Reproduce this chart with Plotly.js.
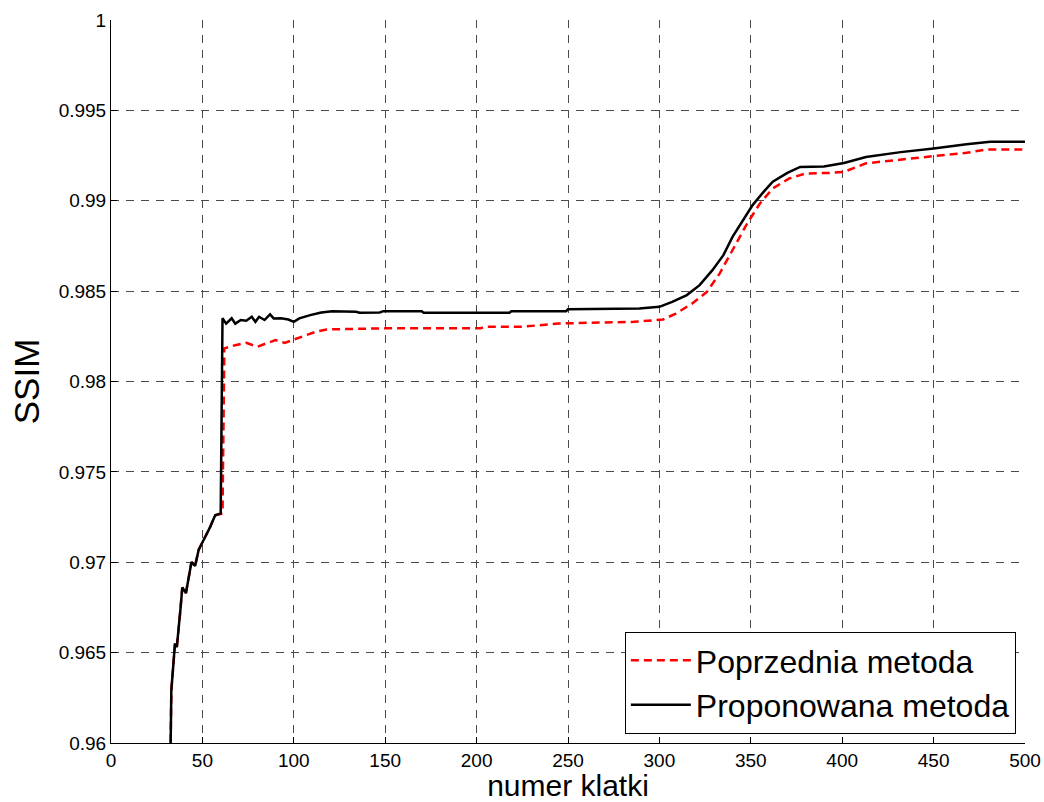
<!DOCTYPE html>
<html>
<head>
<meta charset="utf-8">
<script src="https://cdn.plot.ly/plotly-3.0.1.min.js"></script>
<style>html,body{margin:0;padding:0;background:#fff;}#chart{width:1044px;height:802px;}</style>
</head>
<body>
<div id="chart"></div>
<script>
// Poprzednia metoda (red dashed)
const prevX = [32, 33, 35, 36, 38, 39, 41, 44, 46, 48, 51, 54, 57, 60, 61, 62, 68, 74, 80, 85, 90, 95, 100, 105, 112, 118, 150, 202, 205, 225, 245, 263, 286, 302, 309, 318, 326, 333, 340, 348, 355, 362, 371, 380, 393, 401, 413, 432, 450, 468, 479, 500];
const prevY = [0.955, 0.9629, 0.9655, 0.9653, 0.9674, 0.9686, 0.9683, 0.9700, 0.9698, 0.9707, 0.9713, 0.9719, 0.9726, 0.9727, 0.9727, 0.98183, 0.98201, 0.98214, 0.98192, 0.98211, 0.98229, 0.98214, 0.98233, 0.98251, 0.98275, 0.98288, 0.98294, 0.98294, 0.98303, 0.98303, 0.98321, 0.98325, 0.9833, 0.98343, 0.98376, 0.98432, 0.98496, 0.98598, 0.98727, 0.98874, 0.98985, 0.99068, 0.99123, 0.99151, 0.99154, 0.9916, 0.99207, 0.99229, 0.99247, 0.99265, 0.99284, 0.99284];

// Proponowana metoda (black solid)
const propX = [32, 33, 35, 36, 38, 39, 41, 44, 46, 48, 51, 54, 57, 60, 61, 63, 66, 68, 71, 74, 77, 79, 81, 84, 87, 89, 93, 97, 100, 103, 109, 115, 121, 134, 136, 147, 149, 170, 171, 218, 219, 249, 250, 289, 300, 307, 315, 322, 329, 335, 340, 346, 351, 357, 362, 370, 377, 390, 401, 413, 432, 450, 468, 481, 500];
const propY = [0.955, 0.9629, 0.9655, 0.9653, 0.9674, 0.9686, 0.9683, 0.9700, 0.9698, 0.9707, 0.9713, 0.9719, 0.9726, 0.9727, 0.9835, 0.9832, 0.9835, 0.9832, 0.9834, 0.98336, 0.98358, 0.9833, 0.98358, 0.9834, 0.98371, 0.98349, 0.9835, 0.98343, 0.9833, 0.98349, 0.98367, 0.98382, 0.98388, 0.98386, 0.9838, 0.98382, 0.98389, 0.98389, 0.98381, 0.98381, 0.98389, 0.98389, 0.984, 0.98404, 0.98413, 0.98441, 0.98478, 0.98533, 0.98616, 0.98699, 0.988, 0.98893, 0.98976, 0.99049, 0.99105, 0.99154, 0.99187, 0.9919, 0.99209, 0.99242, 0.99269, 0.99289, 0.99313, 0.99326, 0.99326];

const seriesNames = ["Poprzednia metoda", "Proponowana metoda"];
const xTicks = [0, 50, 100, 150, 200, 250, 300, 350, 400, 450, 500];
const yTicks = [0.96, 0.965, 0.97, 0.975, 0.98, 0.985, 0.99, 0.995, 1];
const yTickText = ["0.96", "0.965", "0.97", "0.975", "0.98", "0.985", "0.99", "0.995", "1"];

const FONT = "Liberation Sans, Arial, sans-serif";

const traces = [
  {x: prevX, y: prevY, name: seriesNames[0], type: "scatter", mode: "lines",
   line: {color: "#ff0000", width: 2.5, dash: "8px,5px"}},
  {x: propX, y: propY, name: seriesNames[1], type: "scatter", mode: "lines",
   line: {color: "#000000", width: 2.5}}
];

const gridStyle = {showgrid: true, gridcolor: "#4a4a4a", gridwidth: 1, griddash: "8px,7px"};

const layout = {
  width: 1044, height: 802,
  margin: {l: 111, r: 19, t: 20, b: 59},
  paper_bgcolor: "#ffffff", plot_bgcolor: "#ffffff",
  font: {family: FONT, color: "#000"},
  showlegend: true,
  legend: {
    x: 0.99, y: 0.0125, xanchor: "right", yanchor: "bottom",
    bgcolor: "#ffffff", bordercolor: "#000000", borderwidth: 1,
    font: {family: FONT, size: 32, color: "#000"},
    itemwidth: 60, tracegroupgap: 0
  },
  xaxis: Object.assign({
    range: [0, 500], tickvals: xTicks, ticktext: xTicks.map(String),
    ticks: "inside", ticklen: 6, tickcolor: "#000",
    showline: true, linecolor: "#000", linewidth: 1, zeroline: false,
    tickfont: {family: FONT, size: 19, color: "#000"},
    title: {text: "numer klatki", font: {family: FONT, size: 30, color: "#000"}, standoff: 7}
  }, gridStyle),
  yaxis: Object.assign({
    range: [0.96, 1], tickvals: yTicks, ticktext: yTickText,
    ticks: "inside", ticklen: 6, tickcolor: "#000",
    showline: true, linecolor: "#000", linewidth: 1, zeroline: false,
    tickfont: {family: FONT, size: 19, color: "#000"},
    title: {text: "SSIM", font: {family: FONT, size: 35, color: "#000"}, standoff: 8}
  }, gridStyle)
};

Plotly.newPlot("chart", traces, layout, {displayModeBar: false, staticPlot: true});
</script>
</body>
</html>
